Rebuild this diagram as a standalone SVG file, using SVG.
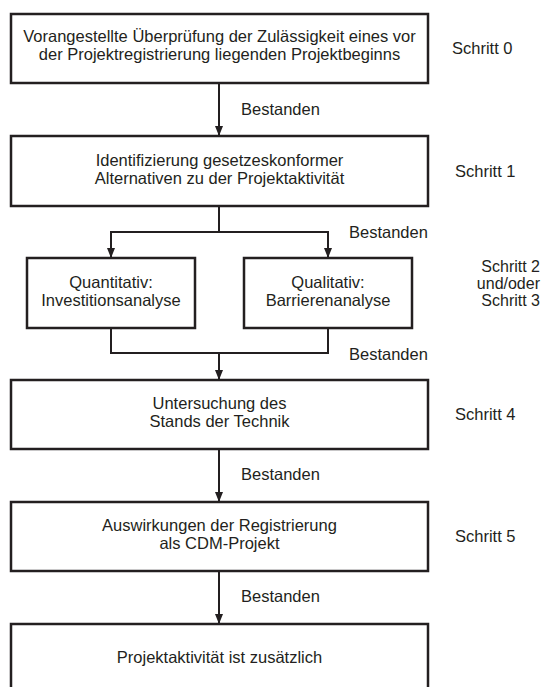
<svg xmlns="http://www.w3.org/2000/svg" width="542" height="687" viewBox="0 0 542 687">
<defs>
<marker id="ah" markerUnits="userSpaceOnUse" markerWidth="10" markerHeight="8" refX="10" refY="4" orient="auto">
<path d="M0,0 L10,4 L0,8 Z" fill="#231f20"/>
</marker>
<style>
.box{fill:#fff;stroke:#231f20;stroke-width:2.5}
.c{fill:none;stroke:#231f20;stroke-width:2}
text{font-family:"Liberation Sans",Arial,sans-serif;font-size:16.5px;fill:#231f20}
.m{text-anchor:middle}
.e{text-anchor:end;font-size:16px}
</style>
</defs>
<rect width="542" height="687" fill="#fff"/>
<g id="connectors">
<path class="c" d="M219,83 V136" marker-end="url(#ah)"/>
<path class="c" d="M219,206 V232"/>
<path class="c" d="M111,232 H328"/>
<path class="c" d="M111,231 V258" marker-end="url(#ah)"/>
<path class="c" d="M328,231 V258" marker-end="url(#ah)"/>
<path class="c" d="M111,328 V354 M328,328 V354"/>
<path class="c" d="M111,353 H328"/>
<path class="c" d="M219,353 V380" marker-end="url(#ah)"/>
<path class="c" d="M219,449 V502" marker-end="url(#ah)"/>
<path class="c" d="M219,571 V624" marker-end="url(#ah)"/>
<text x="241" y="115">Bestanden</text>
<text x="349" y="237.5">Bestanden</text>
<text x="349" y="359.5">Bestanden</text>
<text x="241" y="479.5">Bestanden</text>
<text x="241" y="601.5">Bestanden</text>
</g>
<g id="step0">
<rect class="box" x="11" y="14" width="417" height="69"/>
<text class="m" x="219.5" y="42">Vorangestellte Überprüfung der Zulässigkeit eines vor</text>
<text class="m" x="219.5" y="60">der Projektregistrierung liegenden Projektbeginns</text>
<text x="452" y="54">Schritt 0</text>
</g>
<g id="step1">
<rect class="box" x="11" y="136" width="417" height="70"/>
<text class="m" x="219.5" y="166">Identifizierung gesetzeskonformer</text>
<text class="m" x="219.5" y="184">Alternativen zu der Projektaktivität</text>
<text x="455" y="177">Schritt 1</text>
</g>
<g id="step2">
<rect class="box" x="27" y="258" width="168" height="70"/>
<text class="m" x="111" y="288">Quantitativ:</text>
<text class="m" x="111" y="306">Investitionsanalyse</text>
</g>
<g id="step3">
<rect class="box" x="244" y="258" width="168" height="70"/>
<text class="m" x="328" y="288">Qualitativ:</text>
<text class="m" x="328" y="306">Barrierenanalyse</text>
</g>
<g id="step23label">
<text class="e" x="540" y="272">Schritt 2</text>
<text class="e" x="540" y="289">und/oder</text>
<text class="e" x="540" y="306">Schritt 3</text>
</g>
<g id="step4">
<rect class="box" x="11" y="380" width="417" height="69"/>
<text class="m" x="219.5" y="409">Untersuchung des</text>
<text class="m" x="219.5" y="427">Stands der Technik</text>
<text x="455" y="420">Schritt 4</text>
</g>
<g id="step5">
<rect class="box" x="11" y="502" width="417" height="69"/>
<text class="m" x="219.5" y="531">Auswirkungen der Registrierung</text>
<text class="m" x="219.5" y="549">als CDM-Projekt</text>
<text x="455" y="542">Schritt 5</text>
</g>
<g id="result">
<rect class="box" x="11" y="624" width="417" height="75"/>
<text class="m" x="219.5" y="663">Projektaktivität ist zusätzlich</text>
</g>
</svg>
